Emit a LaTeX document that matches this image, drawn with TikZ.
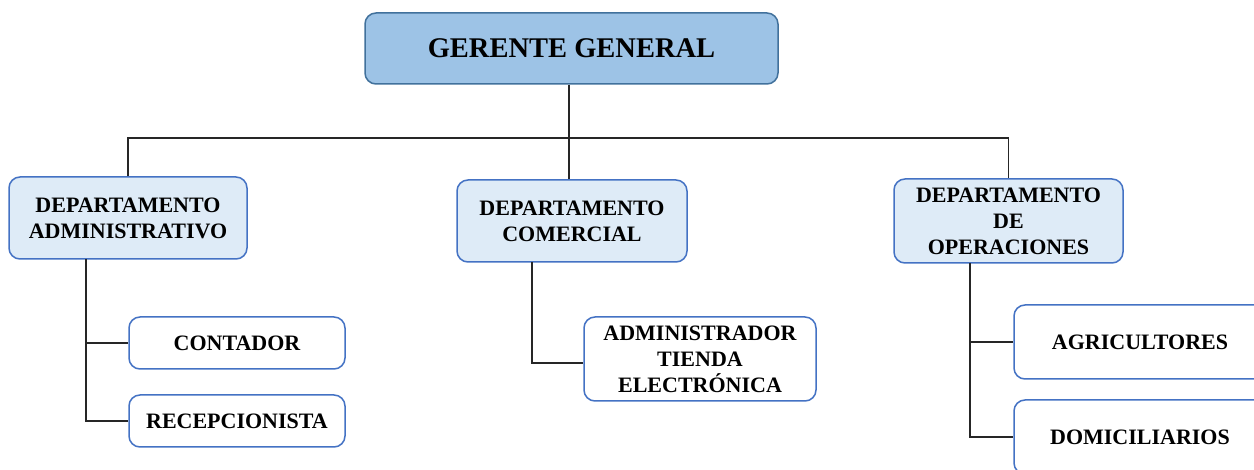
\documentclass[tikz,border=0pt]{standalone}
\usepackage{fontspec}
\setmainfont{Liberation Serif}
\definecolor{topfill}{HTML}{9DC3E6}
\definecolor{topdraw}{HTML}{41719C}
\definecolor{depfill}{HTML}{DEEBF7}
\definecolor{boxdraw}{HTML}{4472C4}
\definecolor{linec}{HTML}{262626}
\begin{document}
\begin{tikzpicture}[x=1pt,y=-1pt,
  base/.style={rectangle, rounded corners=11pt, line width=1.5pt, inner sep=0pt, align=center, font=\bfseries\fontsize{22}{26}\selectfont},
  topbox/.style={base, fill=topfill, draw=topdraw, font=\bfseries\fontsize{28.5}{32}\selectfont},
  depbox/.style={base, fill=depfill, draw=boxdraw},
  subbox/.style={base, fill=white, draw=boxdraw},
  conn/.style={draw=linec, line width=1.1pt}]
\clip (0,0) rectangle (1254,470);
\fill[white] (0,0) rectangle (1254,470);

\node[topbox, minimum width=413pt, minimum height=71pt] (gg) at (571.5,48.5) {GERENTE GENERAL};

\node[depbox, minimum width=238pt, minimum height=82pt] (da) at (128,218) {DEPARTAMENTO\\ADMINISTRATIVO};
\node[depbox, minimum width=230pt, minimum height=82pt] (dc) at (572,221) {DEPARTAMENTO\\COMERCIAL};
\node[depbox, minimum width=229pt, minimum height=84pt] (dop) at (1008.5,221) {DEPARTAMENTO\\DE\\OPERACIONES};

\node[subbox, minimum width=216pt, minimum height=52pt] (cont) at (237,343) {CONTADOR};
\node[subbox, minimum width=216pt, minimum height=52pt] (rec) at (237,421) {RECEPCIONISTA};
\node[subbox, minimum width=232pt, minimum height=84pt] (adm) at (700,359) {ADMINISTRADOR\\TIENDA\\ELECTRÓNICA};
\node[subbox, minimum width=252pt, minimum height=74pt] (agr) at (1140,342) {AGRICULTORES};
\node[subbox, minimum width=252pt, minimum height=74pt] (dom) at (1140,437) {DOMICILIARIOS};

\coordinate (bus) at (569,138);
\draw[conn] (da.north) |- (bus) -| (dop.north);
\draw[conn] (gg.south -| bus) -- (bus |- dc.north);

\coordinate (ta) at (86,259);
\coordinate (tc) at (532,262);
\coordinate (to) at (970,263);

\draw[conn] (ta) |- (rec.west);
\draw[conn] (ta |- cont.west) -- (cont.west);
\draw[conn] (tc) |- ([yshift=-4pt]adm.west);
\draw[conn] (to) |- (dom.west);
\draw[conn] (to |- agr.west) -- (agr.west);
\end{tikzpicture}
\end{document}
